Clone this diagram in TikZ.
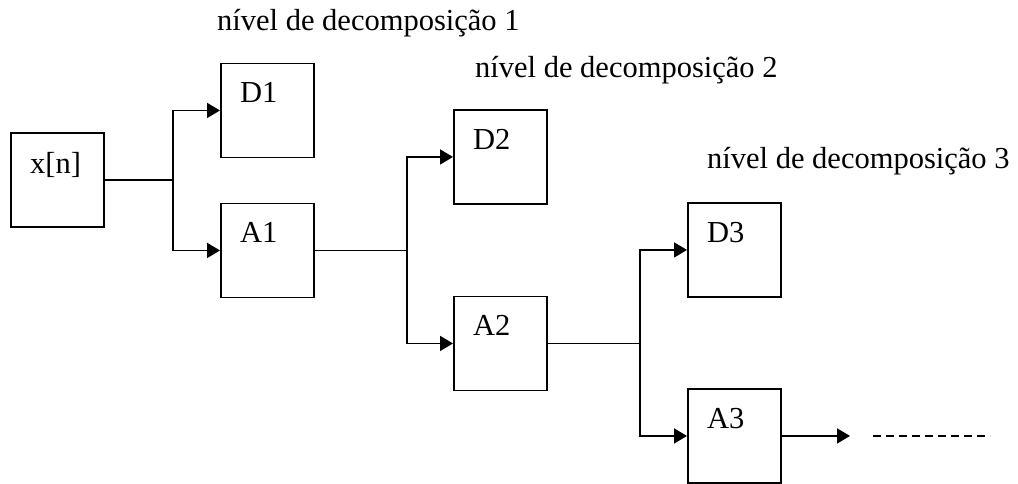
\documentclass[tikz,border=0pt]{standalone}
\usepackage{fontspec}
\setmainfont{Liberation Serif}
\usetikzlibrary{arrows.meta}
\tikzset{
  blk/.style={draw, line width=1.9pt, minimum width=93pt, minimum height=94pt, inner sep=0pt, anchor=north west},
  blktext/.style={anchor=base west, inner sep=0pt, font=\fontsize{30.5}{36}\selectfont},
  lvl/.style={anchor=base west, inner sep=0pt, font=\fontsize{30.5}{36}\selectfont},
  wire/.style={line width=1.8pt},
  arr/.style={wire, -{Triangle[length=13pt,width=15pt]}},
  dots/.style={line width=1.8pt, dash pattern=on 8pt off 5pt}
}
\begin{document}
\begin{tikzpicture}[x=1pt, y=-1pt]
\useasboundingbox (0,0) rectangle (1018,483);
% boxes
\node[blk] (xn) at (10,132) {};
\node[blk] (D1) at (220,62.5) {};
\node[blk] (A1) at (220,202.5) {};
\node[blk] (D2) at (453,109) {};
\node[blk] (A2) at (453,295.5) {};
\node[blk] (D3) at (687,202) {};
\node[blk] (A3) at (687,388) {};
% box texts
\node[blktext] (xnt) at ([shift={(20pt,-41pt)}]xn.north west) {x[n]};
\node[blktext] (D1t) at ([shift={(20pt,-40pt)}]D1.north west) {D1};
\node[blktext] (A1t) at ([shift={(20pt,-40pt)}]A1.north west) {A1};
\node[blktext] (D2t) at ([shift={(20pt,-40pt)}]D2.north west) {D2};
\node[blktext] (A2t) at ([shift={(20pt,-40pt)}]A2.north west) {A2};
\node[blktext] (D3t) at ([shift={(20pt,-40pt)}]D3.north west) {D3};
\node[blktext] (A3t) at ([shift={(20pt,-40pt)}]A3.north west) {A3};
% level labels
\node[lvl] (L1) at (217,30) {nível de decomposição 1};
\node[lvl] (L2) at (475,77) {nível de decomposição 2};
\node[lvl] (L3) at (707,168) {nível de decomposição 3};
% junctions
\coordinate (j1) at (173,0);
\coordinate (j2) at (407,0);
\coordinate (j3) at (640,0);
\coordinate (e1) at (850,0);
\coordinate (d1) at (873,0);
\coordinate (d2) at (990,0);
% connectors
\draw[wire] (xn.east) -- (xn.east -| j1);
\draw[arr] (xn.east -| j1) |- (D1.west);
\draw[arr] (xn.east -| j1) |- (A1.west);
\draw[wire] (A1.east) -- (A1.east -| j2);
\draw[arr] (A1.east -| j2) |- (D2.west);
\draw[arr] (A1.east -| j2) |- (A2.west);
\draw[wire] (A2.east) -- (A2.east -| j3);
\draw[arr] (A2.east -| j3) |- (D3.west);
\draw[arr] (A2.east -| j3) |- (A3.west);
\draw[arr] (A3.east) -- (A3.east -| e1);
\draw[dots] (A3.east -| d1) -- (A3.east -| d2);
\end{tikzpicture}
\end{document}
